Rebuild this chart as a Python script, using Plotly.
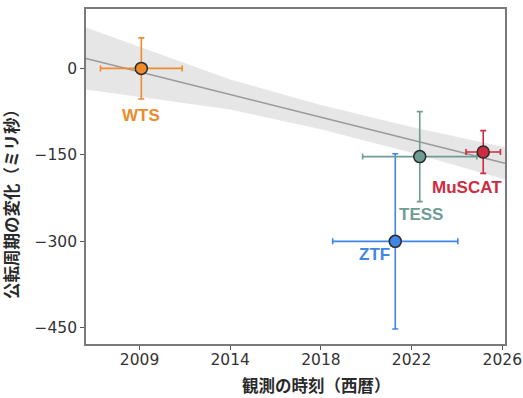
import plotly.graph_objects as go

# Tick positions (equally spaced on the axis) and their year labels
x_tick_pos = [0, 1, 2, 3, 4]
x_tick_labels = ["2009", "2014", "2018", "2022", "2026"]
y_tick_vals = [0, -150, -300, -450]
y_tick_labels = ["0", "\u2212150", "\u2212300", "\u2212450"]

# Observations (x in axis units, y in ms)
names = ["WTS", "ZTF", "TESS", "MuSCAT"]
obs_x = [0.02, 2.82, 3.09, 3.79]
obs_y = [0, -300, -153, -145]
obs_xerr = [0.45, 0.69, 0.63, 0.19]
obs_yerr = [53, 152, 78, 37]
colors = ["#EE8B2B", "#3F86E6", "#6E9C94", "#CF2B40"]
label_x = [0.02, 2.59, 3.10, 3.61]
label_y = [-81, -322, -254, -206]

# Fit line and confidence band
fit_x = [-0.59, 0, 1, 2, 3, 4.03]
fit_y = [17.3, -5.8, -45.2, -84.6, -124.0, -164.6]
band_upper = [71.0, 37.2, -19.2, -63.6, -101.5, -136.6]
band_lower = [-36.5, -48.8, -71.2, -105.6, -146.5, -192.6]

x_title = "観測の時刻（西暦）"
y_title = "公転周期の変化（ミリ秒）"

fig = go.Figure()

fig.add_trace(go.Scatter(x=fit_x + fit_x[::-1], y=band_upper + band_lower[::-1],
                         mode="lines", fill="toself", fillcolor="rgba(200,200,200,0.45)",
                         line=dict(width=0), hoverinfo="skip", showlegend=False))
fig.add_trace(go.Scatter(x=fit_x, y=fit_y, mode="lines",
                         line=dict(color="#999999", width=1.5), showlegend=False))

for i in range(len(names)):
    fig.add_trace(go.Scatter(
        x=[obs_x[i]], y=[obs_y[i]], mode="markers",
        marker=dict(size=12, color=colors[i], line=dict(color="#2b2b2b", width=1.5)),
        error_x=dict(type="data", array=[obs_xerr[i]], color=colors[i], thickness=1.6, width=3),
        error_y=dict(type="data", array=[obs_yerr[i]], color=colors[i], thickness=1.6, width=3),
        showlegend=False))
    fig.add_annotation(x=label_x[i], y=label_y[i], text="<b>" + names[i] + "</b>",
                       showarrow=False, font=dict(size=17, color=colors[i],
                                                  family="Liberation Sans, Arial"))

title_font = dict(size=16.5, family="Noto Sans CJK JP", color="#2a2a2a")
fig.add_annotation(xref="paper", yref="paper", x=0.55, y=-0.122, text="<b>" + x_title + "</b>",
                   showarrow=False, xanchor="center", yanchor="middle", font=title_font)
fig.add_annotation(xref="paper", yref="paper", x=-0.179, y=0.43, text="<b>" + y_title + "</b>",
                   showarrow=False, xanchor="center", yanchor="middle", textangle=-90,
                   font=title_font)

fig.update_layout(
    width=523, height=398,
    margin=dict(l=86, r=18, t=9, b=54),
    paper_bgcolor="white", plot_bgcolor="white",
    font=dict(family="DejaVu Sans", color="#333333"),
)
fig.update_xaxes(range=[-0.59, 4.03], tickvals=x_tick_pos, ticktext=x_tick_labels,
                 automargin=False, ticklabelstandoff=-4, ticklabeloverflow="allow",
                 showgrid=False, zeroline=False, showline=True, mirror=True,
                 linecolor="#7a7a7a", linewidth=1.8, ticks="outside", ticklen=4,
                 tickcolor="#555555", tickfont=dict(size=15.5, color="#333333"))
fig.update_yaxes(range=[-478, 103], tickvals=y_tick_vals, ticktext=y_tick_labels,
                 automargin=False, ticklabeloverflow="allow",
                 showgrid=False, zeroline=False, showline=True, mirror=True,
                 linecolor="#7a7a7a", linewidth=1.8, ticks="outside", ticklen=4,
                 tickcolor="#555555", tickfont=dict(size=15.5, color="#333333"))

# remove the default page margin so the 523x398 figure fills the window exactly
fig.write_html("out.html", config={"displayModeBar": False},
               post_script="document.body.style.margin='0';document.body.style.overflow='hidden';")
